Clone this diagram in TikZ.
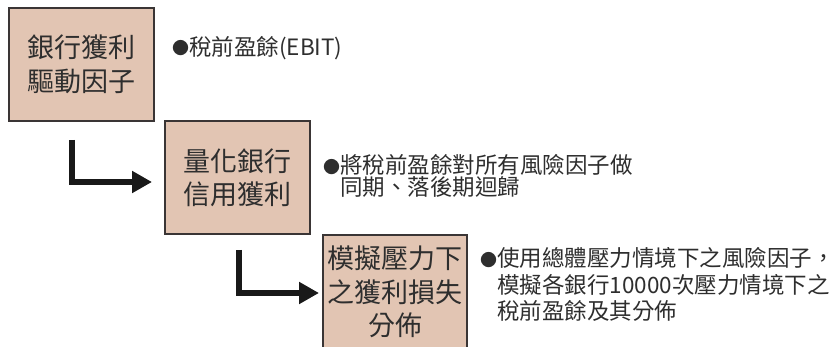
\documentclass[tikz,border=0pt]{standalone}
\usepackage{fontspec}
\newfontfamily\cjk{Noto Sans CJK TC}
\usetikzlibrary{arrows.meta}
\definecolor{boxfill}{HTML}{E2C5B3}
\definecolor{boxline}{HTML}{3A3535}
\definecolor{txt}{HTML}{2E2E2E}
\newcommand\bul{{\fontsize{17}{17}\selectfont\raisebox{0.5pt}{●}}}
\begin{document}
\begin{tikzpicture}[x=1pt,y=-1pt,
  box/.style={draw=boxline,line width=2pt,fill=boxfill,inner sep=0pt,
    minimum width=145pt,minimum height=113pt,align=center,text=txt,
    font=\cjk\fontsize{27}{33.5}\selectfont},
  note/.style={inner sep=0pt,align=left,text=txt,anchor=west},
  elbow/.style={line width=5.5pt,black!90,
    -{Triangle[length=20pt,width=21pt]}}]
\useasboundingbox (0,0) rectangle (838,347);
\clip (0,0) rectangle (838,347);
\node[box] (b1) at (81.5,64.5) {銀行獲利\\驅動因子};
\node[box] (b2) at (237.5,178) {量化銀行\\信用獲利};
\node[box,minimum width=144pt,minimum height=114pt] (b3) at (395,292) {模擬壓力下\\之獲利損失\\分佈};
\node[note,font=\cjk\fontsize{22.5}{26}\selectfont] (t1) at (172,48) {\bul 稅前盈餘(EBIT)};
\node[note,font=\cjk\fontsize{22.5}{22}\selectfont] (t2) at (323,176) {\bul 將稅前盈餘對所有風險因子做\\\hphantom{\bul}同期、落後期迴歸};
\node[note,font=\cjk\fontsize{22.5}{26.5}\selectfont] (t3) at (480,284.5) {\bul 使用總體壓力情境下之風險因子，\\\hphantom{\bul}模擬各銀行10000次壓力情境下之\\\hphantom{\bul}稅前盈餘及其分佈};
\coordinate (s1) at (72,140);
\coordinate (s2) at (239,250);
\draw[elbow,shorten >=12pt] (s1) |- ([yshift=-4pt]b2.west);
\draw[elbow,shorten >=3pt] (s2) |- ([yshift=-1pt]b3.west);
\end{tikzpicture}
\end{document}
